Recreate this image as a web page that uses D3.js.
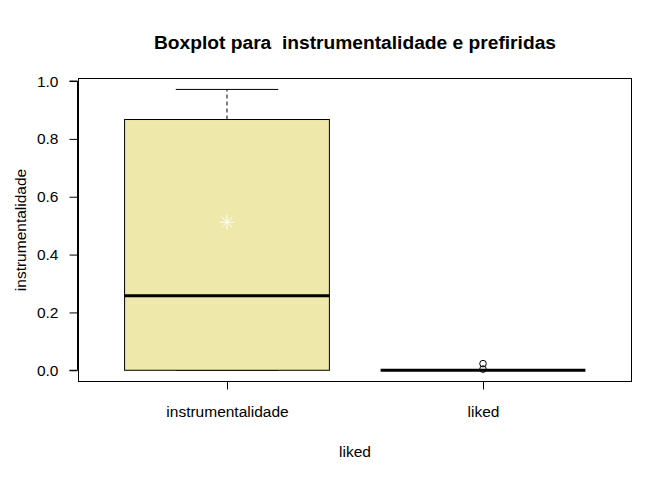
<!DOCTYPE html>
<html><head><meta charset="utf-8">
<script src="https://cdn.jsdelivr.net/npm/d3@7"></script>
<style>body{margin:0;background:#fff;} svg{display:block;} text{font-family:"Liberation Sans",Arial,sans-serif;}</style>
</head><body><svg id="c" width="672" height="480"></svg>
<script>
const categories = ["instrumentalidade", "liked"];
const lowerWhisker = [0.0, 0.0];
const q1 = [0.0, 0.0];
const medians = [0.258, 0.0];
const q3 = [0.867, 0.0];
const upperWhisker = [0.971, 0.0];
const means = [0.512, 0.004];
const outliers = [[], [0.023, 0.004]];
const yTicks = [0.0, 0.2, 0.4, 0.6, 0.8, 1.0];

const svg = d3.select("#c");
const L = 78.5, R = 631.5, T = 78.5, B = 381.5;
const x = d3.scaleLinear().domain([0.42, 2.58]).range([L, R]);
const y = d3.scaleLinear().domain([-0.0388, 1.0088]).range([B, T]);
const bw = 0.8;
const FS = 15.5;

// title
svg.append("text").attr("x", (L+R)/2).attr("y", 49).attr("text-anchor","middle")
  .attr("font-size", 19.2).attr("font-weight","bold").style("white-space","pre")
  .text("Boxplot para  instrumentalidade e prefiridas");

// boxes
categories.forEach((c, i) => {
  const cx = i + 1;
  const g = svg.append("g");
  g.append("line").attr("x1", x(cx)).attr("x2", x(cx)).attr("y1", y(q3[i])).attr("y2", y(upperWhisker[i]))
    .attr("stroke","#000").attr("stroke-dasharray","4,3");
  g.append("line").attr("x1", x(cx)).attr("x2", x(cx)).attr("y1", y(q1[i])).attr("y2", y(lowerWhisker[i]))
    .attr("stroke","#000").attr("stroke-dasharray","4,3");
  g.append("line").attr("x1", x(cx - bw/4)).attr("x2", x(cx + bw/4)).attr("y1", y(upperWhisker[i])).attr("y2", y(upperWhisker[i])).attr("stroke","#000");
  g.append("line").attr("x1", x(cx - bw/4)).attr("x2", x(cx + bw/4)).attr("y1", y(lowerWhisker[i])).attr("y2", y(lowerWhisker[i])).attr("stroke","#000");
  g.append("rect").attr("x", x(cx - bw/2)).attr("width", x(cx + bw/2) - x(cx - bw/2))
    .attr("y", y(q3[i])).attr("height", Math.max(0, y(q1[i]) - y(q3[i])))
    .attr("fill","#EEE8AA").attr("stroke","#000").attr("stroke-width",1);
  g.append("line").attr("x1", x(cx - bw/2)).attr("x2", x(cx + bw/2)).attr("y1", y(medians[i])).attr("y2", y(medians[i]))
    .attr("stroke","#000").attr("stroke-width",3);
  outliers[i].forEach(v => {
    g.append("circle").attr("cx", x(cx)).attr("cy", y(v)).attr("r", 3.3)
      .attr("fill","none").attr("stroke","#000");
  });
  const mx = x(cx), my = y(means[i]), s = 7.5;
  if (i === 0) {
    const star = g.append("g").attr("stroke","#fff").attr("stroke-width",1);
    star.append("line").attr("x1", mx - s).attr("x2", mx + s).attr("y1", my).attr("y2", my);
    star.append("line").attr("x1", mx).attr("x2", mx).attr("y1", my - s).attr("y2", my + s);
    const d = s * 0.72;
    star.append("line").attr("x1", mx - d).attr("x2", mx + d).attr("y1", my - d).attr("y2", my + d);
    star.append("line").attr("x1", mx - d).attr("x2", mx + d).attr("y1", my + d).attr("y2", my - d);
  }
});

// frame
svg.append("rect").attr("x", L).attr("y", T).attr("width", R - L).attr("height", B - T)
  .attr("fill","none").attr("stroke","#000");

// y axis
const yAxis = d3.axisLeft(y).tickValues(yTicks).tickFormat(d3.format(".1f")).tickSize(8).tickPadding(11);
const ya = svg.append("g").attr("transform", `translate(${L - 1},0)`).call(yAxis);
ya.select(".domain").attr("d", `M-8,${y(0)}H0V${y(1)}H-8`);
ya.selectAll("text").attr("font-size", FS).attr("fill","#000").attr("font-family","Liberation Sans, Arial, sans-serif");

// x axis
const xAxis = d3.axisBottom(x).tickValues([1, 2]).tickFormat((d) => categories[d - 1]).tickSize(8).tickPadding(16);
const xa = svg.append("g").attr("transform", `translate(0,${B})`).call(xAxis);
xa.select(".domain").attr("d", `M${x(1)},0H${x(2)}`);
xa.selectAll("text").attr("font-size", FS).attr("fill","#000").attr("font-family","Liberation Sans, Arial, sans-serif");

// axis labels
svg.append("text").attr("x", (L+R)/2).attr("y", 457).attr("text-anchor","middle").attr("font-size",FS).text("liked");
svg.append("text").attr("transform", `translate(26,${(T+B)/2}) rotate(-90)`).attr("text-anchor","middle").attr("font-size",FS).text("instrumentalidade");
</script></body></html>
